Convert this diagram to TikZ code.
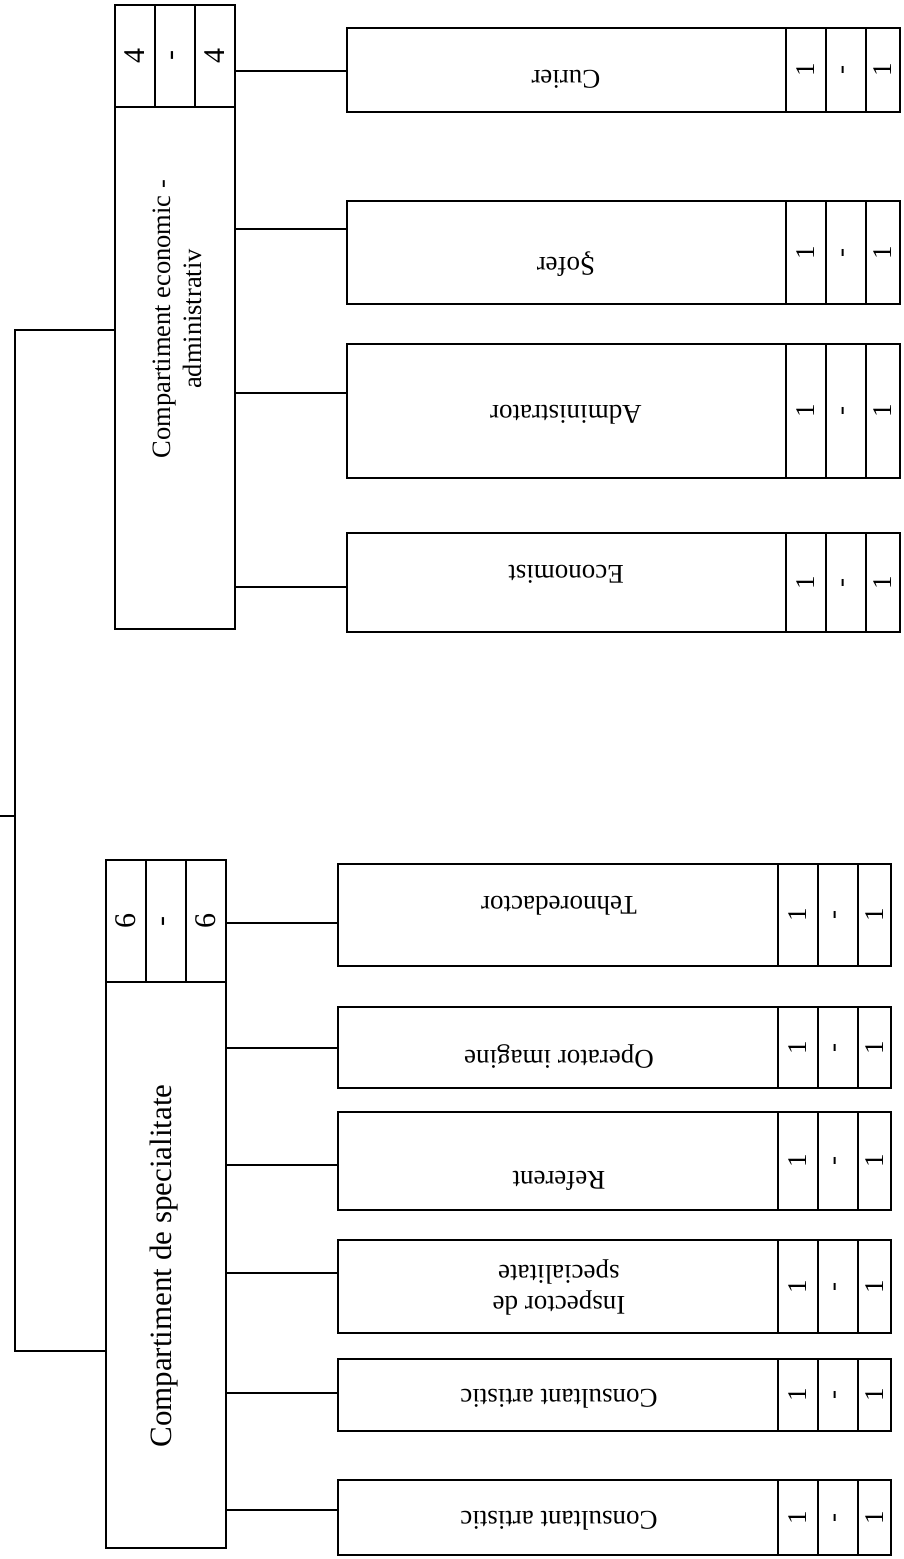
\documentclass[tikz,border=0pt]{standalone}
\usepackage{fontspec}
\setmainfont{Liberation Serif}
\begin{document}
\begin{tikzpicture}[x=1pt,y=-1pt,line width=1.8pt,
  box/.style={draw,rectangle,inner sep=0pt,outer sep=0pt,anchor=north west},
  lbl/.style={font=\fontsize{27}{31}\selectfont,inner sep=0pt,align=center},
  num/.style={font=\fontsize{27}{31}\selectfont,rotate=90,inner sep=0pt},
  dnum/.style={font=\fontsize{30}{34}\selectfont,rotate=90,inner sep=0pt}]
\useasboundingbox (0,0) rectangle (904,1559);

% ---- department: economic-administrativ
\node[box,minimum width=40pt,minimum height=102pt] (econH1) at (115,5) {};
\node[box,minimum width=40pt,minimum height=102pt] (econH2) at (155,5) {};
\node[box,minimum width=40pt,minimum height=102pt] (econH3) at (195,5) {};
\node[dnum] (econN1) at (econH1.center) {4};
\node[dnum] (econN2) at (econH2.center) {-};
\node[dnum] (econN3) at (econH3.center) {4};
\node[box,minimum width=120pt,minimum height=522pt] (econ) at (115,107) {};
\node[lbl,rotate=90,font=\fontsize{26.5}{31}\selectfont] (econT) at (177,319) {Compartiment economic -\\administrativ};

% ---- department: specialitate
\node[box,minimum width=40pt,minimum height=122pt] (specH1) at (106,860) {};
\node[box,minimum width=40pt,minimum height=122pt] (specH2) at (146,860) {};
\node[box,minimum width=40pt,minimum height=122pt] (specH3) at (186,860) {};
\node[dnum] (specN1) at (specH1.center) {6};
\node[dnum] (specN2) at (specH2.center) {-};
\node[dnum] (specN3) at (specH3.center) {6};
\node[box,minimum width=120pt,minimum height=566pt] (spec) at (106,982) {};
\node[lbl,rotate=90,font=\fontsize{31}{36}\selectfont] (specT) at (164,1266) {Compartiment de specialitate};

% ---- root bus
\coordinate (rootIn) at (0,816);
\coordinate (bus) at (15,816);
\draw (rootIn) -- (bus);
\draw (econ.west |- 0,330) -| (bus) |- (spec.west |- 0,1351);

% ---- jobs of economic-administrativ
\foreach \n/\ya/\yb/\yc/\ty/\t in {cur/28/112/71/79/Curier,sof/201/304/229/264/Şofer,adm/344/478/393/415/Administrator,eco/533/632/587/574/Economist}{
  \node[box,minimum width=439pt,minimum height=\yb pt-\ya pt] (\n) at (347,\ya) {};
  \node[box,minimum width=40pt,minimum height=\yb pt-\ya pt] (\n-a) at (786,\ya) {};
  \node[box,minimum width=40pt,minimum height=\yb pt-\ya pt] (\n-b) at (826,\ya) {};
  \node[box,minimum width=34pt,minimum height=\yb pt-\ya pt] (\n-c) at (866,\ya) {};
  \node[num] (\n-na) at (\n-a.center) {1};
  \node[num] (\n-nb) at (\n-b.center) {-};
  \node[num] (\n-nc) at (\n-c.center) {1};
  \node[lbl,rotate=180] (\n-t) at (566,\ty) {\t};
  \coordinate (\n-in) at (347,\yc);
  \draw (econ.east |- \n-in) -- (\n-in);
}

% ---- jobs of specialitate
\foreach \n/\ya/\yb/\yc/\ty/\t in {teh/864/966/923/906/Tehnoredactor,opi/1007/1088/1048/1057/Operator imagine,ref/1112/1210/1165/1181/Referent,ins/1240/1333/1273/1287/{Inspector de\\specialitate},ca1/1359/1431/1393/1399/Consultant artistic,ca2/1480/1555/1510/1521/Consultant artistic}{
  \node[box,minimum width=440pt,minimum height=\yb pt-\ya pt] (\n) at (338,\ya) {};
  \node[box,minimum width=40pt,minimum height=\yb pt-\ya pt] (\n-a) at (778,\ya) {};
  \node[box,minimum width=40pt,minimum height=\yb pt-\ya pt] (\n-b) at (818,\ya) {};
  \node[box,minimum width=33pt,minimum height=\yb pt-\ya pt] (\n-c) at (858,\ya) {};
  \node[num] (\n-na) at (\n-a.center) {1};
  \node[num] (\n-nb) at (\n-b.center) {-};
  \node[num] (\n-nc) at (\n-c.center) {1};
  \node[lbl,rotate=180] (\n-t) at (559,\ty) {\t};
  \coordinate (\n-in) at (338,\yc);
  \draw (spec.east |- \n-in) -- (\n-in);
}
\end{tikzpicture}
\end{document}
